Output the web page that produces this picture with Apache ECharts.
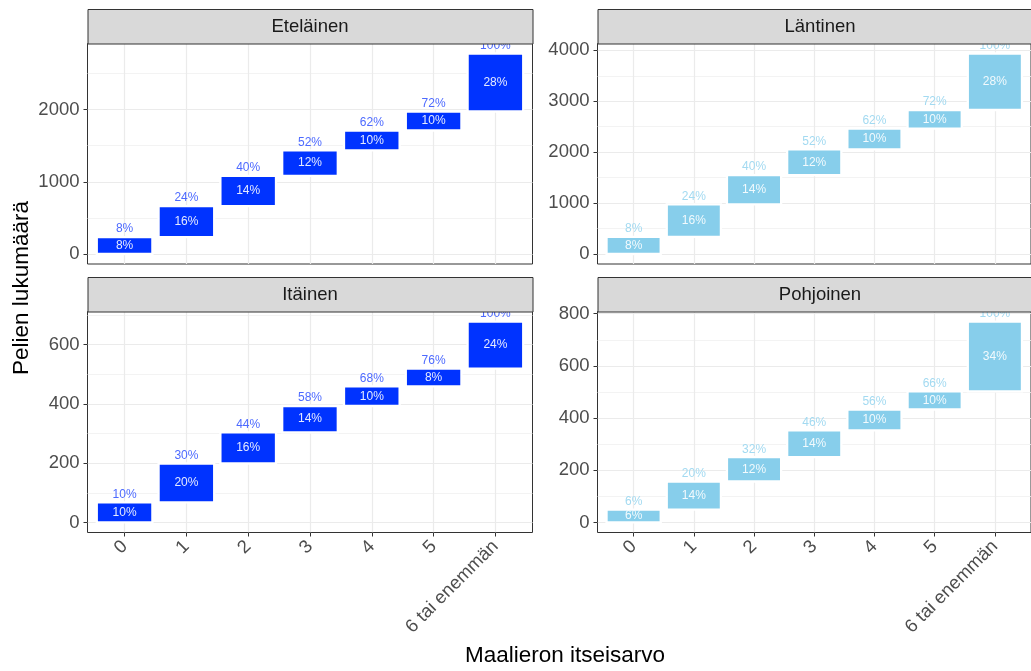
<!DOCTYPE html>
<html><head><meta charset="utf-8">
<script src="https://cdn.jsdelivr.net/npm/echarts@6/dist/echarts.min.js"></script>
<style>html,body{margin:0;padding:0;background:#fff;overflow:hidden}#c{width:1031px;height:671px}</style>
</head><body><div id="c"></div>
<script>
// ---- data ----
const categories = ['0', '1', '2', '3', '4', '5', '6 tai enemmän'];
const regionNames = ['Eteläinen', 'Läntinen', 'Itäinen', 'Pohjoinen'];

const countsEtelainen = [233, 431, 417, 353, 276, 263, 803];
const countsLantinen  = [337, 637, 576, 505, 407, 366, 1109];
const countsItainen   = [68, 131, 105, 89, 66, 60, 159];
const countsPohjoinen = [49, 108, 93, 103, 80, 69, 268];

const shareEtelainen = ['8%', '16%', '14%', '12%', '10%', '10%', '28%'];
const cumEtelainen   = ['8%', '24%', '40%', '52%', '62%', '72%', '100%'];
const shareLantinen  = ['8%', '16%', '14%', '12%', '10%', '10%', '28%'];
const cumLantinen    = ['8%', '24%', '40%', '52%', '62%', '72%', '100%'];
const shareItainen   = ['10%', '20%', '16%', '14%', '10%', '8%', '24%'];
const cumItainen     = ['10%', '30%', '44%', '58%', '68%', '76%', '100%'];
const sharePohjoinen = ['6%', '14%', '12%', '14%', '10%', '10%', '34%'];
const cumPohjoinen   = ['6%', '20%', '32%', '46%', '56%', '66%', '100%'];

const yTicksEtelainen = [0, 1000, 2000];
const yTicksLantinen  = [0, 1000, 2000, 3000, 4000];
const yTicksItainen   = [0, 200, 400, 600];
const yTicksPohjoinen = [0, 200, 400, 600, 800];

// ---- layout / style ----
const FONT = '"Liberation Sans", Arial, sans-serif';
const PW = 445;
const panels = [
  {name: regionNames[0], counts: countsEtelainen, share: shareEtelainen, cum: cumEtelainen, ticks: yTicksEtelainen, step: 1000,
   left: 87.5, top: 43.5, h: 220.5, fill: '#0033FF', top_c: '#4D6AFF', in_c: '#E4EAFF', bottom: false},
  {name: regionNames[1], counts: countsLantinen, share: shareLantinen, cum: cumLantinen, ticks: yTicksLantinen, step: 1000,
   left: 597.5, top: 43.5, h: 220.5, fill: '#87CEEB', top_c: '#A3DAF1', in_c: '#F2FAFD', bottom: false},
  {name: regionNames[2], counts: countsItainen, share: shareItainen, cum: cumItainen, ticks: yTicksItainen, step: 200,
   left: 87.5, top: 311.5, h: 221, fill: '#0033FF', top_c: '#4D6AFF', in_c: '#E4EAFF', bottom: true},
  {name: regionNames[3], counts: countsPohjoinen, share: sharePohjoinen, cum: cumPohjoinen, ticks: yTicksPohjoinen, step: 200,
   left: 597.5, top: 311.5, h: 221, fill: '#87CEEB', top_c: '#A3DAF1', in_c: '#F2FAFD', bottom: true}
];

const grid = [], xAxis = [], yAxis = [], series = [], graphic = [];
panels.forEach((p, i) => {
  const total = p.counts.reduce((a, b) => a + b, 0);
  let run = 0;
  const data = p.counts.map((v, k) => { const s = run; run += v; return [k, s, run]; });
  grid.push({left: p.left, top: p.top, width: PW, height: p.h, show: true, backgroundColor: '#fff',
             borderColor: '#333333', borderWidth: 1, containLabel: false});
  xAxis.push({
    type: 'value', gridIndex: i, min: -0.6, max: 6.6, position: 'bottom',
    axisLine: {show: false, onZero: false},
    axisTick: {show: p.bottom, length: 4, lineStyle: {color: '#333333', width: 1}, customValues: [0, 1, 2, 3, 4, 5, 6]},
    axisLabel: {show: p.bottom, customValues: [0, 1, 2, 3, 4, 5, 6], formatter: v => categories[Math.round(v)],
                rotate: 45, margin: 11, color: '#4D4D4D', fontSize: 18.5, fontFamily: FONT},
    splitLine: {show: true, lineStyle: {color: '#EBEBEB', width: 1.2}},
    minorSplitLine: {show: false}
  });
  yAxis.push({
    type: 'value', gridIndex: i, min: -0.05 * total, max: 1.05 * total, position: 'left',
    splitNumber: Math.round((1.1 * total) / p.step),
    axisLine: {show: false, onZero: false},
    axisTick: {show: true, length: 4, lineStyle: {color: '#333333', width: 1}, customValues: p.ticks},
    axisLabel: {customValues: p.ticks, formatter: v => String(Math.round(v)), margin: 8, color: '#4D4D4D',
                fontSize: 18.5, fontFamily: FONT},
    splitLine: {show: true, lineStyle: {color: '#EBEBEB', width: 1.2}},
    minorTick: {show: false, splitNumber: 2},
    minorSplitLine: {show: true, lineStyle: {color: '#F0F0F0', width: 0.8}}
  });
  series.push({
    type: 'custom', xAxisIndex: i, yAxisIndex: i, clip: true, data: data,
    renderItem: (params, api) => {
      const x = api.value(0), y0 = api.value(1), y1 = api.value(2);
      const a = api.coord([x - 0.45, y1]);
      const b = api.coord([x + 0.45, y0]);
      const cx = (a[0] + b[0]) / 2, cy = (a[1] + b[1]) / 2;
      const k = params.dataIndex;
      return {type: 'group', children: [
        {type: 'rect', shape: {x: a[0], y: a[1], width: b[0] - a[0], height: b[1] - a[1]},
         style: {fill: p.fill, stroke: '#ffffff', lineWidth: 2.3}},
        {type: 'text', x: cx, y: cy, style: {text: p.share[k], fill: p.in_c, align: 'center', verticalAlign: 'middle',
         fontSize: 12, fontFamily: FONT}},
        {type: 'text', x: cx, y: a[1] - 8, style: {text: p.cum[k], fill: p.top_c, align: 'center', verticalAlign: 'middle',
         fontSize: 12, fontFamily: FONT}}
      ]};
    }
  });
  // facet strip
  graphic.push({type: 'rect', left: p.left, top: p.top - 34.5, shape: {x: 0, y: 0, width: PW, height: 34.5},
                style: {fill: '#D9D9D9', stroke: '#333333', lineWidth: 1}, z: 10});
  graphic.push({type: 'text', x: p.left + PW / 2, y: p.top - 17, style: {text: p.name, fill: '#1A1A1A', fontSize: 18.5,
                fontFamily: FONT, align: 'center', verticalAlign: 'middle'}, z: 11});
});
graphic.push({type: 'text', x: 22, y: 288, rotation: Math.PI / 2, style: {text: 'Pelien lukumäärä', fill: '#000',
              fontSize: 22.5, fontFamily: FONT, align: 'center', verticalAlign: 'middle'}});
graphic.push({type: 'text', x: 565, y: 656, style: {text: 'Maalieron itseisarvo', fill: '#000',
              fontSize: 22.5, fontFamily: FONT, align: 'center', verticalAlign: 'middle'}});

const chart = echarts.init(document.getElementById('c'), null, {renderer: 'canvas'});
chart.setOption({animation: false, backgroundColor: '#ffffff', grid, xAxis, yAxis, series, graphic});
</script>
</body></html>
